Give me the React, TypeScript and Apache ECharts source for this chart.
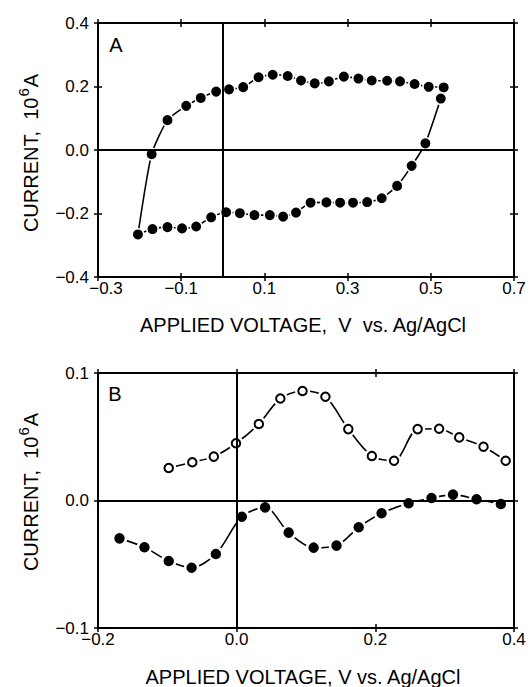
import React, { useEffect, useRef } from "react";
import * as echarts from "echarts";

// Panel A: cyclic voltammogram (V vs Ag/AgCl, current in 10^6 A)
const aForwardV = [-0.204, -0.171, -0.133, -0.088, -0.053, -0.016, 0.015, 0.049, 0.086, 0.12, 0.156, 0.188, 0.221, 0.255, 0.291, 0.326, 0.358, 0.395, 0.426, 0.461, 0.495, 0.531];
const aForwardI = [-0.266, -0.013, 0.094, 0.139, 0.164, 0.184, 0.191, 0.198, 0.229, 0.237, 0.233, 0.219, 0.21, 0.216, 0.231, 0.225, 0.219, 0.218, 0.216, 0.208, 0.199, 0.197];
const aReverseV = [0.524, 0.487, 0.454, 0.419, 0.382, 0.347, 0.313, 0.282, 0.249, 0.211, 0.176, 0.145, 0.113, 0.076, 0.041, 0.008, -0.028, -0.064, -0.098, -0.133, -0.169];
const aReverseI = [0.162, 0.021, -0.05, -0.113, -0.152, -0.164, -0.166, -0.166, -0.165, -0.166, -0.197, -0.21, -0.205, -0.205, -0.199, -0.196, -0.212, -0.241, -0.247, -0.243, -0.249];

// Panel B
const bOpenV = [-0.098, -0.064, -0.033, -0.001, 0.032, 0.063, 0.095, 0.128, 0.161, 0.195, 0.227, 0.261, 0.292, 0.321, 0.356, 0.388];
const bOpenI = [0.0255, 0.03, 0.0344, 0.0449, 0.06, 0.08, 0.0859, 0.0814, 0.056, 0.0349, 0.0312, 0.056, 0.0563, 0.0495, 0.0422, 0.0312];
const bFilledV = [-0.169, -0.133, -0.098, -0.065, -0.03, 0.0075, 0.041, 0.075, 0.111, 0.144, 0.176, 0.209, 0.248, 0.281, 0.312, 0.346, 0.381];
const bFilledI = [-0.0297, -0.0367, -0.0475, -0.0527, -0.042, -0.0127, -0.0054, -0.0252, -0.037, -0.0354, -0.021, -0.01, -0.0022, 0.002, 0.0046, 0.001, -0.0027];

const xTitleA = "APPLIED VOLTAGE,  V  vs. Ag/AgCl";
const xTitleB = "APPLIED VOLTAGE, V vs. Ag/AgCl";
const yTitleRich = "{a|CURRENT,  10}{s|6}{a|A}";
const panelLabels = ["A", "B"];

const FONT = "'Liberation Sans', Arial, Helvetica, sans-serif";
const TICK_FS = 17;
const TITLE_FS = 20;

function fmt(v: number): string {
  if (Math.abs(v) < 1e-9) return "0.0";
  const s = v.toFixed(1);
  return s.replace("-", "\u2212");
}

function zip(xs: number[], ys: number[]) {
  return xs.map((x, i) => [x, ys[i]]);
}

const tickLine = { color: "#000", width: 1.5 };

function makeX(gridIndex: number, min: number, max: number, interval: number, firstPad: number) {
  const common = { gridIndex, type: "value" as const, min, max, interval, splitLine: { show: false } };
  return [
    {
      ...common,
      position: "bottom",
      axisLine: { show: true, onZero: false, lineStyle: { color: "#000", width: 2 } },
      axisTick: { show: true, inside: false, length: 4, lineStyle: tickLine },
      axisLabel: {
        show: true,
        margin: 3,
        color: "#000",
        fontFamily: FONT,
        fontSize: TICK_FS,
        formatter: (v: number) => (Math.abs(v - min) < 1e-9 && firstPad > 0 ? "{p|" + fmt(v) + "}" : fmt(v)),
        rich: { p: { padding: [0, 0, 0, firstPad], fontFamily: FONT, fontSize: TICK_FS, color: "#000" } },
      },
    },
    {
      ...common,
      position: "bottom",
      axisLine: { show: false, onZero: false },
      axisTick: { show: true, inside: true, length: 4, lineStyle: tickLine },
      axisLabel: { show: false },
    },
    {
      ...common,
      position: "top",
      axisLine: { show: true, onZero: false, lineStyle: { color: "#000", width: 2 } },
      axisTick: { show: true, inside: false, length: 4, lineStyle: tickLine },
      axisLabel: { show: false },
    },
    {
      ...common,
      position: "top",
      axisLine: { show: false, onZero: false },
      axisTick: { show: true, inside: true, length: 4, lineStyle: tickLine },
      axisLabel: { show: false },
    },
  ];
}

function makeY(gridIndex: number, min: number, max: number, interval: number) {
  const common = { gridIndex, type: "value" as const, min, max, interval, splitLine: { show: false } };
  return [
    {
      ...common,
      position: "left",
      axisLine: { show: true, onZero: false, lineStyle: { color: "#000", width: 2 } },
      axisTick: { show: true, inside: false, length: 4, lineStyle: tickLine },
      axisLabel: { show: true, margin: 9, color: "#000", fontFamily: FONT, fontSize: TICK_FS, formatter: fmt },
    },
    {
      ...common,
      position: "left",
      axisLine: { show: false, onZero: false },
      axisTick: { show: true, inside: true, length: 4, lineStyle: tickLine },
      axisLabel: { show: false },
    },
    {
      ...common,
      position: "right",
      axisLine: { show: true, onZero: false, lineStyle: { color: "#000", width: 2 } },
      axisTick: { show: true, inside: false, length: 4, lineStyle: tickLine },
      axisLabel: { show: false },
    },
    {
      ...common,
      position: "right",
      axisLine: { show: false, onZero: false },
      axisTick: { show: true, inside: true, length: 4, lineStyle: tickLine },
      axisLabel: { show: false },
    },
  ];
}

const zeroMarkLine = {
  silent: true,
  symbol: ["none", "none"],
  label: { show: false },
  emphasis: { disabled: true },
  lineStyle: { color: "#000", width: 2, type: "solid" },
  data: [{ xAxis: 0 }, { yAxis: 0 }],
};

export default function App() {
  const ref = useRef<HTMLDivElement>(null);
  useEffect(() => {
    if (!ref.current) return;
    const chart = echarts.init(ref.current, null, { renderer: "svg" });

    const loopA = [...zip(aForwardV, aForwardI), ...zip(aReverseV, aReverseI), [aForwardV[0], aForwardI[0]]];
    const pointsA = [...zip(aForwardV, aForwardI), ...zip(aReverseV, aReverseI)];
    const openB = zip(bOpenV, bOpenI);
    const filledB = zip(bFilledV, bFilledI);

    const lineStyle = { color: "#000", width: 1.6 };

    const option: any = {
      animation: false,
      backgroundColor: "#fff",
      grid: [
        { left: 98, top: 23, width: 416, height: 254 },
        { left: 98, top: 373, width: 416, height: 255 },
      ],
      xAxis: [...makeX(0, -0.3, 0.7, 0.2, 16), ...makeX(1, -0.2, 0.4, 0.2, 0)],
      yAxis: [...makeY(0, -0.4, 0.4, 0.2), ...makeY(1, -0.1, 0.1, 0.1)],
      series: [
        {
          type: "line",
          xAxisIndex: 0,
          yAxisIndex: 0,
          data: loopA,
          showSymbol: false,
          symbol: "none",
          smooth: 0.2,
          lineStyle,
          z: 1,
          markLine: zeroMarkLine,
        },
        {
          type: "scatter",
          xAxisIndex: 0,
          yAxisIndex: 0,
          data: pointsA,
          symbol: "circle",
          symbolSize: 11.5,
          itemStyle: { color: "#000", borderColor: "#fff", borderWidth: 1.5, opacity: 1 },
          z: 3,
        },
        {
          type: "line",
          xAxisIndex: 4,
          yAxisIndex: 4,
          data: openB,
          showSymbol: false,
          symbol: "none",
          smooth: 0.3,
          lineStyle,
          z: 1,
          markLine: zeroMarkLine,
        },
        {
          type: "scatter",
          xAxisIndex: 4,
          yAxisIndex: 4,
          data: openB,
          symbol: "circle",
          symbolSize: 15,
          itemStyle: { color: "#fff", opacity: 1 },
          z: 2,
        },
        {
          type: "scatter",
          xAxisIndex: 4,
          yAxisIndex: 4,
          data: openB,
          symbol: "circle",
          symbolSize: 8.5,
          itemStyle: { color: "#fff", borderColor: "#000", borderWidth: 2, opacity: 1 },
          z: 3,
        },
        {
          type: "line",
          xAxisIndex: 4,
          yAxisIndex: 4,
          data: filledB,
          showSymbol: false,
          symbol: "none",
          smooth: 0.3,
          lineStyle,
          z: 1,
        },
        {
          type: "scatter",
          xAxisIndex: 4,
          yAxisIndex: 4,
          data: filledB,
          symbol: "circle",
          symbolSize: 13,
          itemStyle: { color: "#000", borderColor: "#fff", borderWidth: 2.5, opacity: 1 },
          z: 3,
        },
      ],
      graphic: [
        {
          type: "text",
          x: 116,
          y: 45,
          style: { text: panelLabels[0], font: `${TITLE_FS}px ${FONT}`, fill: "#000", align: "center", verticalAlign: "middle" },
        },
        {
          type: "text",
          x: 115,
          y: 394,
          style: { text: panelLabels[1], font: `${TITLE_FS}px ${FONT}`, fill: "#000", align: "center", verticalAlign: "middle" },
        },
        {
          type: "text",
          x: 303,
          y: 325,
          style: { text: xTitleA, font: `${TITLE_FS}px ${FONT}`, fill: "#000", align: "center", verticalAlign: "middle" },
        },
        {
          type: "text",
          x: 303,
          y: 677,
          style: { text: xTitleB, font: `${TITLE_FS}px ${FONT}`, fill: "#000", align: "center", verticalAlign: "middle" },
        },
        ...[153, 492].map((cy) => ({
          type: "text",
          x: 28,
          y: cy,
          rotation: Math.PI / 2,
          style: {
            text: yTitleRich,
            fill: "#000",
            align: "center",
            verticalAlign: "middle",
            rich: {
              a: { fontFamily: FONT, fontSize: TITLE_FS, fill: "#000", verticalAlign: "bottom", lineHeight: 26 },
              s: { fontFamily: FONT, fontSize: 15, fill: "#000", verticalAlign: "bottom", lineHeight: 15, padding: [0, 1, 10, 1] },
            },
          },
        })),
      ],
    };
    chart.setOption(option);
    return () => chart.dispose();
  }, []);
  return (
    <div
      ref={ref}
      style={{ position: "absolute", left: 0, top: 0, width: 530, height: 687, background: "#fff" }}
    />
  );
}
